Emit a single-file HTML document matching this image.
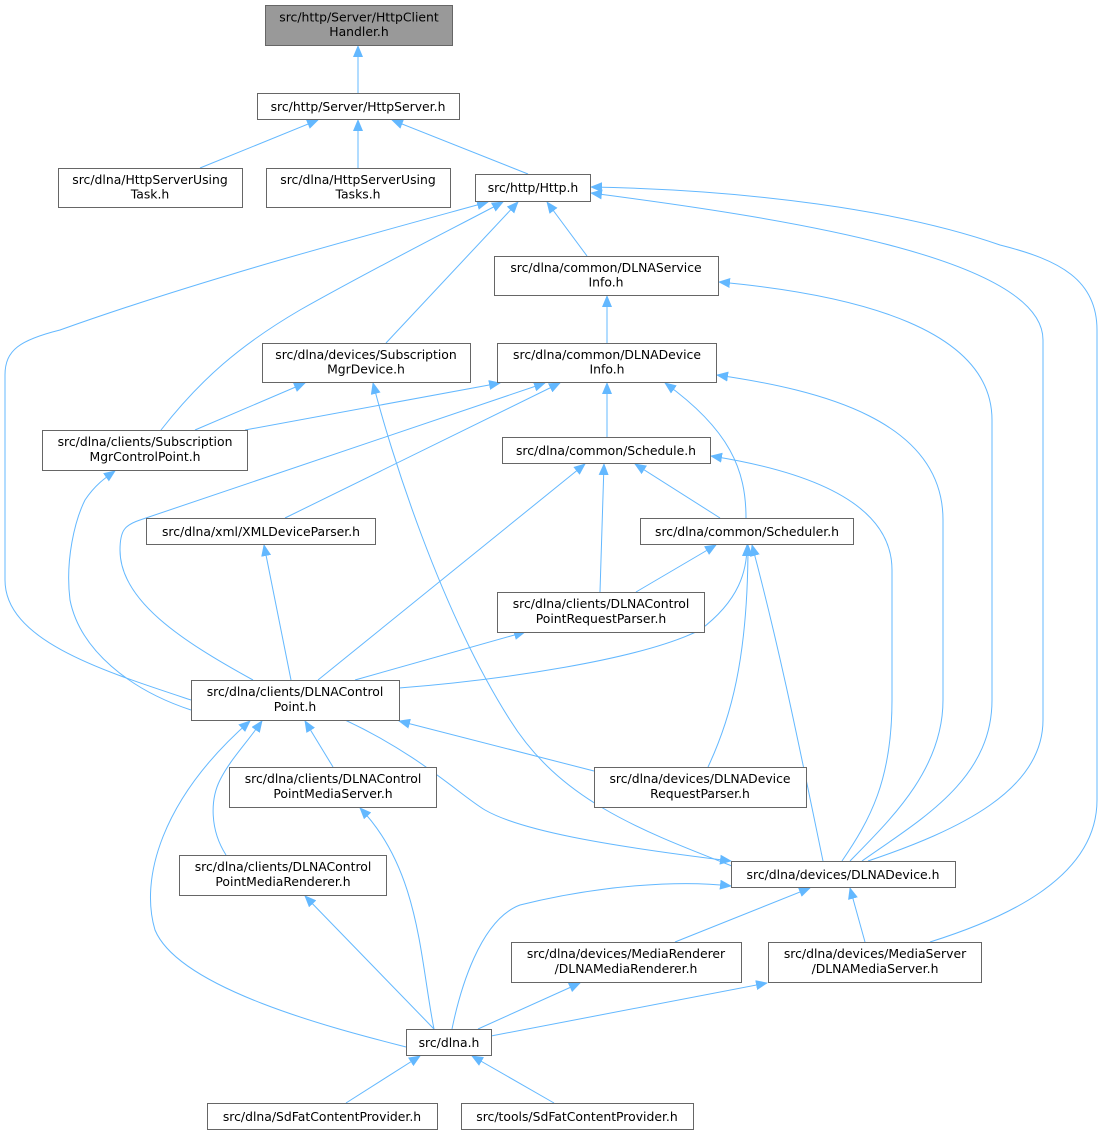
<!DOCTYPE html>
<html><head><meta charset="utf-8"><style>
body{margin:0;background:#fff;}
svg text{font-family:"DejaVu Sans",sans-serif;font-size:12.4px;fill:#000;}
</style></head><body>
<svg width="1101" height="1136" viewBox="0 0 1101 1136" xmlns="http://www.w3.org/2000/svg">
<defs><marker id="a" markerWidth="12" markerHeight="10" refX="11" refY="5" orient="auto" markerUnits="userSpaceOnUse"><path d="M0,0 L12,5 L0,10 z" fill="#63b8ff"/></marker></defs>
<g fill="none" stroke="#63b8ff" stroke-width="1" marker-end="url(#a)">
<path d="M358,93 L358,46"/>
<path d="M200,168 L318,120"/>
<path d="M358,168 L358,120"/>
<path d="M528,174 L392,120"/>
<path d="M587,256 L547,202"/>
<path d="M386,343 L518,202"/>
<path d="M161,430 C200,380 240,345 300,310 C380,265 450,230 503,202"/>
<path d="M191,700 C100,670 5,640 5,580 L5,375 C5,350 20,340 60,330 C200,280 350,240 488,202"/>
<path d="M868,861 C960,830 1043,790 1043,720 L1043,340 C1043,260 800,220 591,193"/>
<path d="M930,942 C1000,920 1097,880 1097,800 L1097,330 C1097,280 1060,260 1000,245 C900,210 750,190 591,187"/>
<path d="M862,861 C920,820 992,780 992,700 L992,420 C992,330 860,295 719,282"/>
<path d="M607,343 L607,296"/>
<path d="M195,430 L305,383"/>
<path d="M245,430 L500,383"/>
<path d="M253,680 C180,640 120,600 120,550 C120,530 125,525 140,520 L545,383"/>
<path d="M285,518 L560,383"/>
<path d="M607,437 L607,383"/>
<path d="M746,518 C746,470 730,430 665,383"/>
<path d="M850,861 C890,820 943,770 943,700 L943,520 C943,420 820,390 717,375"/>
<path d="M191,710 C130,690 80,650 70,600 C65,560 75,520 85,500 C95,485 105,478 115,471"/>
<path d="M732,866 C640,830 560,800 510,720 C440,610 390,450 373,383"/>
<path d="M318,680 L585,464"/>
<path d="M600,592 L604,464"/>
<path d="M720,518 L635,464"/>
<path d="M842,861 C870,820 892,780 892,700 L892,570 C892,500 800,470 711,456"/>
<path d="M636,592 L716,545"/>
<path d="M399,688 C500,680 640,660 700,630 C740,600 747,570 747,545"/>
<path d="M708,767 C730,720 748,660 748,545"/>
<path d="M823,861 C800,750 780,650 752,545"/>
<path d="M291,680 L264,545"/>
<path d="M355,680 L525,632"/>
<path d="M333,767 L305,721"/>
<path d="M594,771 L399,721"/>
<path d="M345,720 C420,755 460,795 485,810 C520,830 600,845 731,861"/>
<path d="M226,855 C210,830 210,800 220,780 C230,760 245,745 262,721"/>
<path d="M406,1047 C340,1030 180,990 155,930 C140,880 160,800 250,721"/>
<path d="M434,1029 C420,960 420,870 360,808"/>
<path d="M434,1029 L305,896"/>
<path d="M452,1029 C460,990 480,920 520,905 C600,885 680,880 731,886"/>
<path d="M675,942 L810,888"/>
<path d="M865,942 L850,888"/>
<path d="M478,1029 L580,983"/>
<path d="M491,1036 L767,983"/>
<path d="M346,1103 L420,1056"/>
<path d="M554,1103 L472,1056"/>
</g>
<g stroke="#666" stroke-width="1" fill="#fff">
<rect x="265.5" y="5.5" width="187" height="40" fill="#999"/>
<rect x="257.5" y="93.5" width="202" height="26"/>
<rect x="58.5" y="168.5" width="184" height="39"/>
<rect x="266.5" y="168.5" width="184" height="39"/>
<rect x="475.5" y="174.5" width="115" height="27"/>
<rect x="494.5" y="256.5" width="224" height="39"/>
<rect x="262.5" y="343.5" width="208" height="39"/>
<rect x="497.5" y="343.5" width="219" height="39"/>
<rect x="42.5" y="430.5" width="205" height="40"/>
<rect x="502.5" y="437.5" width="208" height="26"/>
<rect x="146.5" y="518.5" width="229" height="26"/>
<rect x="640.5" y="518.5" width="213" height="26"/>
<rect x="497.5" y="592.5" width="207" height="40"/>
<rect x="191.5" y="680.5" width="208" height="40"/>
<rect x="229.5" y="767.5" width="207" height="40"/>
<rect x="594.5" y="767.5" width="212" height="40"/>
<rect x="179.5" y="855.5" width="207" height="40"/>
<rect x="731.5" y="861.5" width="224" height="26"/>
<rect x="511.5" y="942.5" width="230" height="40"/>
<rect x="768.5" y="942.5" width="213" height="40"/>
<rect x="406.5" y="1029.5" width="85" height="26"/>
<rect x="207.5" y="1103.5" width="230" height="26"/>
<rect x="461.5" y="1103.5" width="232" height="26"/>
</g>
<g text-anchor="middle">
<text x="359" y="21.5">src/http/Server/HttpClient</text><text x="359" y="36">Handler.h</text>
<text x="358" y="111">src/http/Server/HttpServer.h</text>
<text x="150" y="184">src/dlna/HttpServerUsing</text><text x="150" y="198.5">Task.h</text>
<text x="358" y="184">src/dlna/HttpServerUsing</text><text x="358" y="198.5">Tasks.h</text>
<text x="533" y="192">src/http/Http.h</text>
<text x="606" y="272">src/dlna/common/DLNAService</text><text x="606" y="286.5">Info.h</text>
<text x="366" y="359">src/dlna/devices/Subscription</text><text x="366" y="373.5">MgrDevice.h</text>
<text x="607" y="359">src/dlna/common/DLNADevice</text><text x="607" y="373.5">Info.h</text>
<text x="145" y="446">src/dlna/clients/Subscription</text><text x="145" y="461">MgrControlPoint.h</text>
<text x="606" y="455">src/dlna/common/Schedule.h</text>
<text x="261" y="536">src/dlna/xml/XMLDeviceParser.h</text>
<text x="747" y="536">src/dlna/common/Scheduler.h</text>
<text x="601" y="608">src/dlna/clients/DLNAControl</text><text x="601" y="623">PointRequestParser.h</text>
<text x="295" y="696">src/dlna/clients/DLNAControl</text><text x="295" y="711">Point.h</text>
<text x="333" y="783">src/dlna/clients/DLNAControl</text><text x="333" y="798">PointMediaServer.h</text>
<text x="700" y="783">src/dlna/devices/DLNADevice</text><text x="700" y="798">RequestParser.h</text>
<text x="283" y="871">src/dlna/clients/DLNAControl</text><text x="283" y="886">PointMediaRenderer.h</text>
<text x="843" y="879">src/dlna/devices/DLNADevice.h</text>
<text x="626" y="958">src/dlna/devices/MediaRenderer</text><text x="626" y="973">/DLNAMediaRenderer.h</text>
<text x="875" y="958">src/dlna/devices/MediaServer</text><text x="875" y="973">/DLNAMediaServer.h</text>
<text x="449" y="1047">src/dlna.h</text>
<text x="322" y="1121">src/dlna/SdFatContentProvider.h</text>
<text x="577" y="1121">src/tools/SdFatContentProvider.h</text>
</g>
</svg>
</body></html>
